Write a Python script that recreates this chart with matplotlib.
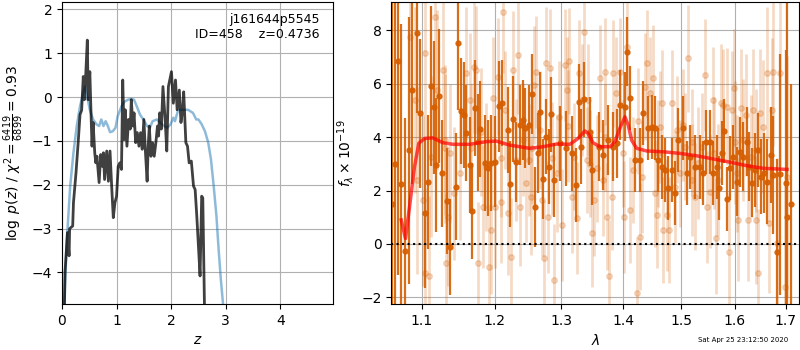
import matplotlib as mpl
mpl.use('Agg')
from matplotlib import pyplot as plt
from matplotlib.ticker import NullLocator
import numpy as np

# p(z) curves, left panel
z_fit = [0.03, 0.055, 0.10, 0.13, 0.14, 0.196, 0.21, 0.257, 0.30, 0.33,
         0.36, 0.39, 0.41, 0.43, 0.464, 0.48, 0.51, 0.53, 0.55, 0.57,
         0.60, 0.62, 0.64, 0.68, 0.71, 0.74, 0.76, 0.78, 0.82, 0.85,
         0.88, 0.91, 0.94, 0.97, 1.00, 1.03, 1.06, 1.09, 1.113, 1.14,
         1.16, 1.19, 1.22, 1.25, 1.27, 1.30, 1.32, 1.35, 1.38, 1.41,
         1.44, 1.47, 1.50, 1.53, 1.56, 1.58, 1.60, 1.63, 1.66, 1.69,
         1.72, 1.75, 1.77, 1.79, 1.82, 1.85, 1.89, 1.92, 1.95, 2.006,
         2.04, 2.08, 2.11, 2.15, 2.18, 2.21, 2.23, 2.27, 2.30, 2.33,
         2.37, 2.41, 2.44, 2.47, 2.50, 2.53, 2.56, 2.58, 2.61, 2.63]
logp_fit = [-6, -4.0, -3.09, -3.62, -3.0, -2.94, -2.41, -1.72, -0.97, -0.40,
            -0.30, 0.47, -0.06, 0.38, 1.30, -0.06, 0.58, -0.29, -1.12, -0.58,
            -1.27, -1.50, -1.35, -1.95, -1.31, -1.58, -1.27, -1.88, -1.23, -1.92,
            -1.23, -2.03, -2.75, -2.41, -2.26, -1.58, -1.50, -1.65, 0.39, -0.97,
            -0.29, -1.12, -0.51, -0.73, -0.06, -0.66, -0.36, -1.04, -0.81, -1.12,
            -0.81, -1.19, -0.51, -1.27, -1.92, -1.12, -0.66, -1.35, -1.04, -1.35,
            -1.04, -0.66, -0.89, -0.36, -0.73, 0.24, -0.51, -1.23, 0.24, 0.58,
            -0.14, 0.39, -0.29, 0.16, -0.58, -0.29, 0.12, -1.04, -1.12, -1.50,
            -1.46, -2.03, -2.11, -2.71, -3.39, -4.08, -2.26, -2.30, -4.7, -6]

z_prior = [0.02, 0.04, 0.09, 0.15, 0.21, 0.27, 0.33, 0.39, 0.42, 0.46,
           0.51, 0.57, 0.63, 0.68, 0.72, 0.76, 0.80, 0.84, 0.88, 0.93,
           0.98, 1.02, 1.09, 1.15, 1.21, 1.27, 1.32, 1.37, 1.43, 1.49,
           1.56, 1.61, 1.66, 1.74, 1.80, 1.87, 1.93, 1.99, 2.04, 2.07,
           2.13, 2.22, 2.31, 2.40, 2.46, 2.50, 2.56, 2.62, 2.68, 2.73,
           2.78, 2.83, 2.87, 2.91, 2.95, 2.98]
logp_prior = [-6, -4.7, -3.24, -2.03, -1.27, -0.66, -0.21, 0.10, 0.24, 0.02,
              -0.29, -0.51, -0.62, -0.66, -0.51, -0.66, -0.55, -0.66, -0.80, -0.78,
              -0.70, -0.44, -0.21, -0.10, -0.06, -0.04, -0.06, -0.21, -0.40, -0.51,
              -0.66, -0.70, -0.55, -0.51, -0.58, -0.66, -0.70, -0.62, -0.47, -0.55,
              -0.29, -0.29, -0.29, -0.36, -0.51, -0.51, -0.62, -0.78, -1.04, -1.42,
              -2.03, -2.71, -3.47, -4.15, -4.7, -5.3]

# unbinned spectrum (faint)
spec_wave = [1.0839, 1.0904, 1.0935, 1.1013, 1.1036, 1.1040, 1.1093, 1.1125, 1.1170, 1.1200,
             1.1280, 1.1303, 1.1310, 1.1326, 1.1348, 1.1371, 1.1426, 1.1509, 1.1602, 1.1648,
             1.1660, 1.1704, 1.1742, 1.1765, 1.1812, 1.1835, 1.1883, 1.1920, 1.1944, 1.1977,
             1.2012, 1.2049, 1.2089, 1.2100, 1.2122, 1.2147, 1.2195, 1.2245, 1.2269, 1.2319,
             1.2343, 1.2368, 1.2417, 1.2467, 1.2501, 1.2541, 1.2550, 1.2576, 1.2616, 1.2667,
             1.2702, 1.2728, 1.2770, 1.2794, 1.2831, 1.2850, 1.2882, 1.2924, 1.2964, 1.3002,
             1.3053, 1.3089, 1.3100, 1.3121, 1.3159, 1.3195, 1.3237, 1.3279, 1.3317, 1.3354,
             1.3397, 1.3423, 1.3450, 1.3477, 1.3515, 1.3558, 1.3613, 1.3667, 1.3695, 1.3700,
             1.3722, 1.3766, 1.3805, 1.3832, 1.3877, 1.3943, 1.4000, 1.4011, 1.4055, 1.4112,
             1.4168, 1.4225, 1.4250, 1.4281, 1.4310, 1.4367, 1.4396, 1.4453, 1.4500, 1.4540,
             1.4569, 1.4600, 1.4627, 1.4657, 1.4686, 1.4745, 1.4792, 1.4834, 1.4893, 1.4935,
             1.4983, 1.5032, 1.5074, 1.5134, 1.5195, 1.5200, 1.5256, 1.5317, 1.5378, 1.5440,
             1.5471, 1.5532, 1.5595, 1.5600, 1.5645, 1.5688, 1.5733, 1.5782, 1.5845, 1.5889,
             1.5939, 1.5983, 1.6000, 1.6035, 1.6066, 1.6113, 1.6164, 1.6216, 1.6261, 1.6308,
             1.6359, 1.6400, 1.6412, 1.6457, 1.6490, 1.6543, 1.6624, 1.6676, 1.6723, 1.6756,
             1.6824, 1.6891, 1.6994, 1.7029]
spec_flux = [7.76, 5.39, 2.39, 1.64, -1.10, 7.14, -1.20, 3.27, 8.50, 5.76,
             6.51, 3.58, 3.90, -0.73, 1.02, 3.39, 1.89, 2.64, 6.39, 5.39,
             3.60, 6.64, 6.51, -0.73, 4.20, 1.39, 2.89, -0.85, 0.52, 5.45,
             1.39, 6.26, 1.58, 3.20, 8.70, 5.01, 1.15, -0.48, 6.51, 3.14,
             7.07, 1.39, 3.89, 2.27, 3.14, 1.77, 3.60, 5.95, 6.45, 4.27,
             1.64, -0.54, 6.76, 1.02, 6.58, 3.20, -1.35, 2.64, 4.76, 0.71,
             6.70, 5.76, 4.40, 6.85, 1.77, 3.27, 0.96, 6.39, 5.39, 7.95,
             3.14, 5.39, 3.00, 0.40, 1.64, 2.83, 6.20, 2.39, 6.45, 4.00,
             1.02, -1.20, 1.77, 6.39, 5.64, 6.45, 3.40, 1.02, 7.39, 1.27,
             2.77, -1.85, 4.60, 0.27, 2.52, 5.89, 6.76, 5.64, 6.20, 1.89,
             1.08, 3.40, 4.39, 5.27, 0.52, 1.08, 0.52, 5.27, 2.14, 4.27,
             2.64, 4.45, 3.64, 6.95, 2.39, 3.80, 1.77, 3.02, 3.64, 6.33,
             1.39, 1.96, 5.39, 3.40, 0.21, 2.39, 5.27, 5.20, 5.14, -0.29,
             5.01, 5.83, 3.80, 2.64, 0.90, 5.08, 3.89, 4.83, 0.90, 3.27,
             5.01, 3.50, 0.90, -1.10, 4.89, 4.39, 6.39, 0.77, 5.01, 6.45,
             0.02, 6.39, -1.60, 2.52]
spec_err = [4.0, 3.5, 3.5, 3.2, 3.2, 3.2, 3.0, 3.0, 3.0, 3.0,
            2.8, 2.8, 2.8, 2.6, 2.6, 2.6, 2.5, 2.5, 2.5, 2.5,
            2.4, 2.5, 2.4, 2.3, 2.4, 2.3, 2.4, 2.3, 2.4, 2.3,
            2.3, 2.2, 2.3, 2.2, 2.3, 2.2, 2.3, 2.2, 2.2, 2.3,
            2.2, 2.2, 2.1, 2.2, 2.1, 2.2, 2.1, 2.2, 2.1, 2.2,
            2.1, 2.2, 2.1, 2.1, 2.2, 2.1, 2.1, 2.2, 2.1, 2.1,
            2.1, 2.0, 2.1, 2.0, 2.1, 2.0, 2.1, 2.0, 2.1, 2.0,
            2.0, 2.1, 2.0, 2.0, 2.1, 2.0, 2.0, 2.1, 2.0, 2.0,
            2.0, 2.1, 2.0, 2.0, 2.1, 2.0, 2.0, 2.1, 2.0, 2.0,
            2.0, 2.1, 2.0, 2.0, 2.1, 2.0, 2.0, 2.1, 2.0, 2.0,
            2.0, 2.0, 2.1, 2.0, 2.0, 2.1, 2.0, 2.0, 2.1, 2.0,
            2.0, 2.1, 2.0, 2.0, 2.1, 2.0, 2.0, 2.1, 2.0, 2.1,
            2.1, 2.1, 2.0, 2.1, 2.1, 2.1, 2.2, 2.1, 2.2, 2.2,
            2.2, 2.2, 2.3, 2.2, 2.3, 2.2, 2.3, 2.3, 2.3, 2.3,
            2.3, 2.3, 2.4, 2.4, 2.4, 2.5, 2.5, 2.6, 2.7, 2.8,
            3.2, 3.5, 4.0, 4.5]

# binned spectrum
bin_wave = [1.0620, 1.0650, 1.0688, 1.0732, 1.0787, 1.0830, 1.0874, 1.0940, 1.0970, 1.1036,
            1.1080, 1.1125, 1.1160, 1.1191, 1.1227, 1.1267, 1.1335, 1.1375, 1.1454, 1.1486,
            1.1523, 1.1565, 1.1602, 1.1648, 1.1680, 1.1723, 1.1765, 1.1800, 1.1860, 1.1906,
            1.1954, 1.2002, 1.2064, 1.2113, 1.2195, 1.2230, 1.2269, 1.2319, 1.2368, 1.2417,
            1.2453, 1.2506, 1.2551, 1.2602, 1.2642, 1.2667, 1.2718, 1.2770, 1.2809, 1.2840,
            1.2887, 1.2975, 1.3069, 1.3167, 1.3226, 1.3279, 1.3306, 1.3359, 1.3450, 1.3487,
            1.3602, 1.3667, 1.3749, 1.3821, 1.3887, 1.3943, 1.4027, 1.4055, 1.4112, 1.4190,
            1.4280, 1.4337, 1.4424, 1.4482, 1.4540, 1.4598, 1.4657, 1.4715, 1.4774, 1.4834,
            1.4893, 1.4953, 1.5043, 1.5104, 1.5164, 1.5256, 1.5347, 1.5408, 1.5458, 1.5532,
            1.5593, 1.5656, 1.5700, 1.5750, 1.5799, 1.5856, 1.5907, 1.5970, 1.6035, 1.6099,
            1.6164, 1.6230, 1.6280, 1.6327, 1.6392, 1.6445, 1.6510, 1.6570, 1.6635, 1.6703,
            1.6756, 1.6824, 1.6891, 1.7006, 1.7022, 1.7120]
bin_flux = [1.5, 3.0, 6.85, 2.24, -0.27, 3.5, 5.76, 7.89, 4.89, 1.15,
            2.31, 5.91, 5.11, 2.95, 5.54, 2.64, 1.61, -0.10, 2.14, 7.51,
            4.98, 4.83, 4.14, 2.95, 1.23, 5.08, 3.80, 4.30, 3.02, 2.85,
            3.02, 3.08, 5.16, 5.27, 4.27, 2.24, 4.68, 3.08, 4.45, 4.64,
            4.33, 4.45, 5.60, 1.39, 3.39, 4.93, 2.43, 4.01, 2.89, 4.85,
            2.39, 3.77, 3.58, 3.39, 2.21, 5.33, 3.64, 5.42, 4.20, 2.77,
            3.64, 3.33, 3.89, 3.64, 3.77, 5.20, 5.14, 7.20, 5.45, 3.14,
            3.14, 4.89, 4.33, 4.39, 4.33, 3.14, 2.89, 2.77, 2.08, 2.77,
            1.89, 3.89, 4.33, 2.64, 3.27, 2.89, 2.89, 2.64, 3.83, 3.83,
            2.64, 2.89, 2.08, 3.39, 4.24, 1.67, 2.83, 3.27, 2.33, 3.45,
            3.27, 3.83, 2.89, 2.29, 2.77, 3.52, 2.52, 2.64, 2.33, 3.33,
            2.58, -0.31, 2.60, 2.27, 1.0, 1.5]
bin_err = [8.0, 9.0, 8.0, 6.0, 5.0, 5.0, 3.5, 3.0, 2.8, 2.8,
           2.5, 3.0, 2.5, 2.5, 2.5, 2.0, 2.0, 1.8, 2.0, 2.5,
           2.0, 2.0, 1.8, 1.8, 1.8, 1.8, 1.8, 1.8, 1.8, 1.8,
           1.8, 1.7, 1.7, 1.6, 1.6, 1.6, 1.6, 1.5, 1.5, 1.5,
           1.5, 1.5, 1.5, 1.5, 1.5, 1.5, 1.5, 1.4, 1.4, 1.4,
           1.4, 1.4, 1.4, 1.4, 1.4, 1.4, 1.4, 1.4, 1.3, 1.3,
           1.3, 1.3, 1.3, 1.3, 1.3, 1.3, 1.3, 1.3, 1.2, 1.2,
           1.2, 1.2, 1.2, 1.2, 1.2, 1.2, 1.2, 1.2, 1.2, 1.2,
           1.2, 1.2, 1.2, 1.2, 1.2, 1.2, 1.2, 1.2, 1.2, 1.2,
           1.2, 1.2, 1.2, 1.2, 1.2, 1.2, 1.2, 1.2, 1.3, 1.3,
           1.3, 1.3, 1.3, 1.3, 1.4, 1.4, 1.4, 1.5, 1.6, 1.8,
           2.2, 3.5, 4.5, 5.0, 9.0, 4.5]

# best-fit model
model_wave = [1.0732, 1.0787, 1.0839, 1.0904, 1.0960, 1.1036, 1.1146, 1.1280, 1.1417, 1.1648,
              1.1883, 1.2026, 1.2220, 1.2516, 1.2718, 1.2924, 1.3131, 1.3263, 1.3370, 1.3420,
              1.3500, 1.3613, 1.3777, 1.3860, 1.3942, 1.4026, 1.4082, 1.4140, 1.4225, 1.4397,
              1.4686, 1.4980, 1.5286, 1.5595, 1.5910, 1.6230, 1.6560, 1.7030]
model_flux = [0.90, 0.20, 1.39, 2.89, 3.77, 3.95, 3.97, 3.79, 3.73, 3.73,
              3.83, 3.85, 3.70, 3.58, 3.64, 3.74, 3.73, 3.95, 4.23, 4.14,
              3.79, 3.64, 3.64, 3.83, 4.33, 4.76, 4.45, 3.88, 3.58, 3.48,
              3.45, 3.39, 3.30, 3.18, 3.06, 2.93, 2.83, 2.79]

spec_color = '#d55e00'

fig = plt.figure(figsize=(8, 3.5), dpi=100)

ax = fig.add_axes([0.0775, 0.1314, 0.339, 0.863])
ax.plot(z_prior, logp_prior, color='#1f77b4', alpha=0.5, lw=1.8)
ax.plot(z_fit, logp_fit, color='k', alpha=0.75, lw=2)
ax.set_xlim(0, 4.97)
ax.set_ylim(-4.72, 2.17)
ax.set_xticks([0, 1, 2, 3, 4])
ax.set_yticks([-4, -3, -2, -1, 0, 1, 2])
ax.grid()
ax.set_xlabel(r'$z$')
ax.set_ylabel(r'$\log\ p(z)$' + ' / ' + r'$\chi^2=\frac{6419}{6899}=0.93$')
ax.text(0.95, 0.965, 'j161644p5545\nID=458    z=0.4736', ha='right', va='top',
        transform=ax.transAxes, fontsize=9)

ax = fig.add_axes([0.489, 0.1314, 0.51, 0.863])
ax.errorbar(spec_wave, spec_flux, yerr=spec_err, color=spec_color, alpha=0.22,
            marker='o', ms=4, linestyle='None', elinewidth=2)
ax.errorbar(bin_wave, bin_flux, yerr=bin_err, color=spec_color, alpha=0.9,
            marker='o', ms=3.5, linestyle='None', elinewidth=1.6)
ax.plot(model_wave, model_flux, color='r', alpha=0.7, lw=2.5, zorder=10)
ax.axhline(0, color='k', linestyle=':', lw=1.5, zorder=11)
ax.set_xscale('log')
ticks = [1.1, 1.2, 1.3, 1.4, 1.5, 1.6, 1.7]
ax.set_xticks(ticks)
ax.set_xticklabels(['%.1f' % t for t in ticks])
ax.xaxis.set_minor_locator(NullLocator())
ax.set_xlim(1.0604, 1.728)
ax.set_ylim(-2.25, 9.06)
ax.set_yticks([-2, 0, 2, 4, 6, 8])
ax.grid()
ax.set_xlabel(r'$\lambda$')
ax.set_ylabel(r'$f_\lambda\times10^{-19}$')

fig.text(0.985, 0.02, 'Sat Apr 25 23:12:50 2020', ha='right', va='bottom', fontsize=5)

fig.savefig('out.png', dpi=100)
